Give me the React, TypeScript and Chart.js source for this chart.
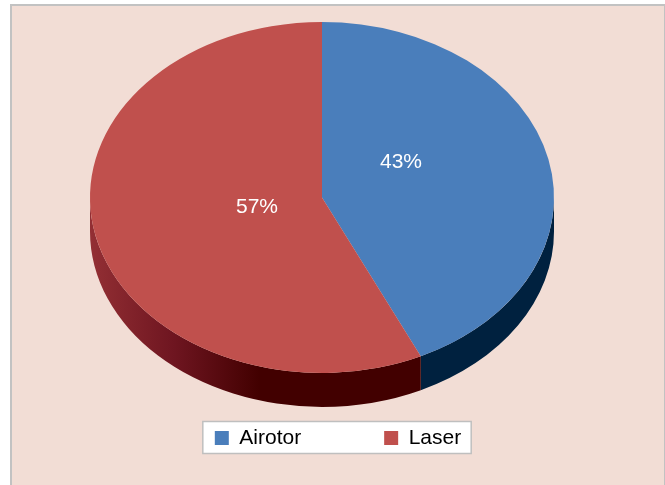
import React, { useEffect, useRef } from 'react';
import { Chart, registerables } from 'chart.js';

Chart.register(...registerables);

// ---- data ----
const categories: string[] = ['Airotor', 'Laser'];
const percentValues: number[] = [43, 57];
const topColors: string[] = ['#4A7EBB', '#C0504D'];
const sideColors: string[][] = [
  ['#00213F', '#00213F'],
  ['#932F34', '#6E1520', '#420000'],
];

// ---- style constants ----
const FONT = "'Liberation Sans', Arial, sans-serif";
const TILT = 0.756; // vertical squash of the pie top
const DEPTH = 34; // thickness of the pie
const SHIFT_X = -16; // horizontal offset of the pie relative to the chart area centre
const LABEL_RX = 0.318;
const LABEL_RY = 0.587;
const LABEL_DX = 7;
const LABEL_DY = -13;

function frontRanges(s: number, e: number): [number, number][] {
  const out: [number, number][] = [];
  for (let k = -2; k <= 2; k++) {
    const lo = Math.max(s, k * 2 * Math.PI);
    const hi = Math.min(e, k * 2 * Math.PI + Math.PI);
    if (hi > lo) out.push([lo, hi]);
  }
  return out;
}

const backgroundPlugin = {
  id: 'excelBackground',
  beforeDraw(chart: any) {
    const { ctx, width, height } = chart;
    ctx.save();
    ctx.fillStyle = '#FFFFFF';
    ctx.fillRect(0, 0, width, height);
    ctx.fillStyle = '#C2C2C2';
    ctx.fillRect(10, 4, width - 10, height);
    ctx.fillStyle = '#F2DDD5';
    ctx.fillRect(12, 6, width - 13, height);
    // legend frame
    const lg = chart.legend;
    if (lg && lg.legendHitBoxes && lg.legendHitBoxes.length) {
      const hb = lg.legendHitBoxes;
      const first = hb[0];
      const last = hb[hb.length - 1];
      const left = first.left - 12;
      const right = last.left + last.width + 10;
      const top = first.top - 6;
      const bottom = first.top + first.height + 5;
      ctx.fillStyle = '#FFFFFF';
      ctx.fillRect(left, top, right - left, bottom - top);
      ctx.strokeStyle = '#BFBFBF';
      ctx.lineWidth = 1.5;
      ctx.strokeRect(left, top, right - left, bottom - top);
    }
    ctx.restore();
  },
};

const pie3dPlugin = {
  id: 'pie3d',
  beforeDatasetsDraw(chart: any) {
    const meta = chart.getDatasetMeta(0);
    const arcs = meta.data;
    if (!arcs || !arcs.length) return;
    const ctx = chart.ctx;
    const a0 = arcs[0];
    const cx = a0.x + SHIFT_X;
    const cy = a0.y;
    const rx = a0.outerRadius;
    const ry = rx * TILT;
    ctx.save();
    arcs.forEach((arc: any, i: number) => {
      const ranges = frontRanges(arc.startAngle, arc.endAngle);
      ranges.forEach(([a, b]) => {
        const stops = sideColors[i % sideColors.length];
        const grad = ctx.createLinearGradient(cx - rx, 0, cx - rx * 0.27, 0);
        stops.forEach((c, j) => grad.addColorStop(j / (stops.length - 1), c));
        ctx.beginPath();
        ctx.ellipse(cx, cy, rx, ry, 0, a, b, false);
        ctx.ellipse(cx, cy + DEPTH, rx, ry, 0, b, a, true);
        ctx.closePath();
        ctx.fillStyle = grad;
        ctx.fill();
      });
    });
    ctx.save();
    ctx.translate(cx, cy);
    ctx.scale(1, TILT);
    ctx.translate(-a0.x, -a0.y);
  },
  afterDatasetsDraw(chart: any) {
    const meta = chart.getDatasetMeta(0);
    const arcs = meta.data;
    if (!arcs || !arcs.length) return;
    const ctx = chart.ctx;
    ctx.restore();
    const a0 = arcs[0];
    const cx = a0.x + SHIFT_X;
    const cy = a0.y;
    const rx = a0.outerRadius;
    const ry = rx * TILT;
    ctx.fillStyle = '#FFFFFF';
    ctx.font = `21px ${FONT}`;
    ctx.textAlign = 'center';
    ctx.textBaseline = 'middle';
    const data = chart.data.datasets[0].data as number[];
    const total = data.reduce((s, v) => s + v, 0);
    arcs.forEach((arc: any, i: number) => {
      const mid = (arc.startAngle + arc.endAngle) / 2;
      const x = cx + LABEL_DX + LABEL_RX * rx * Math.cos(mid);
      const y = cy + LABEL_DY + LABEL_RY * ry * Math.sin(mid);
      ctx.fillText(`${Math.round((data[i] / total) * 100)}%`, x, y);
    });
    ctx.restore();
  },
};

export default function App() {
  const ref = useRef<HTMLCanvasElement>(null);
  useEffect(() => {
    document.body.style.margin = '0';
    if (!ref.current) return;
    const chart = new Chart(ref.current, {
      type: 'pie',
      data: {
        labels: categories,
        datasets: [
          {
            data: percentValues,
            backgroundColor: topColors,
            borderWidth: 0,
            radius: 232,
            clip: false as any,
          } as any,
        ],
      },
      options: {
        responsive: false,
        animation: false,
        layout: { padding: { top: 50.5, bottom: 26.5, left: 11, right: 0 } },
        plugins: {
          legend: {
            position: 'bottom',
            labels: {
              boxWidth: 14,
              boxHeight: 14,
              padding: 83,
              color: '#000000',
              font: { family: FONT, size: 21 },
            },
          },
          tooltip: { enabled: false },
        },
      },
      plugins: [backgroundPlugin, pie3dPlugin],
    });
    return () => chart.destroy();
  }, []);
  return (
    <div style={{ width: 665, height: 485 }}>
      <canvas ref={ref} width={665} height={485} style={{ display: 'block' }} />
    </div>
  );
}
